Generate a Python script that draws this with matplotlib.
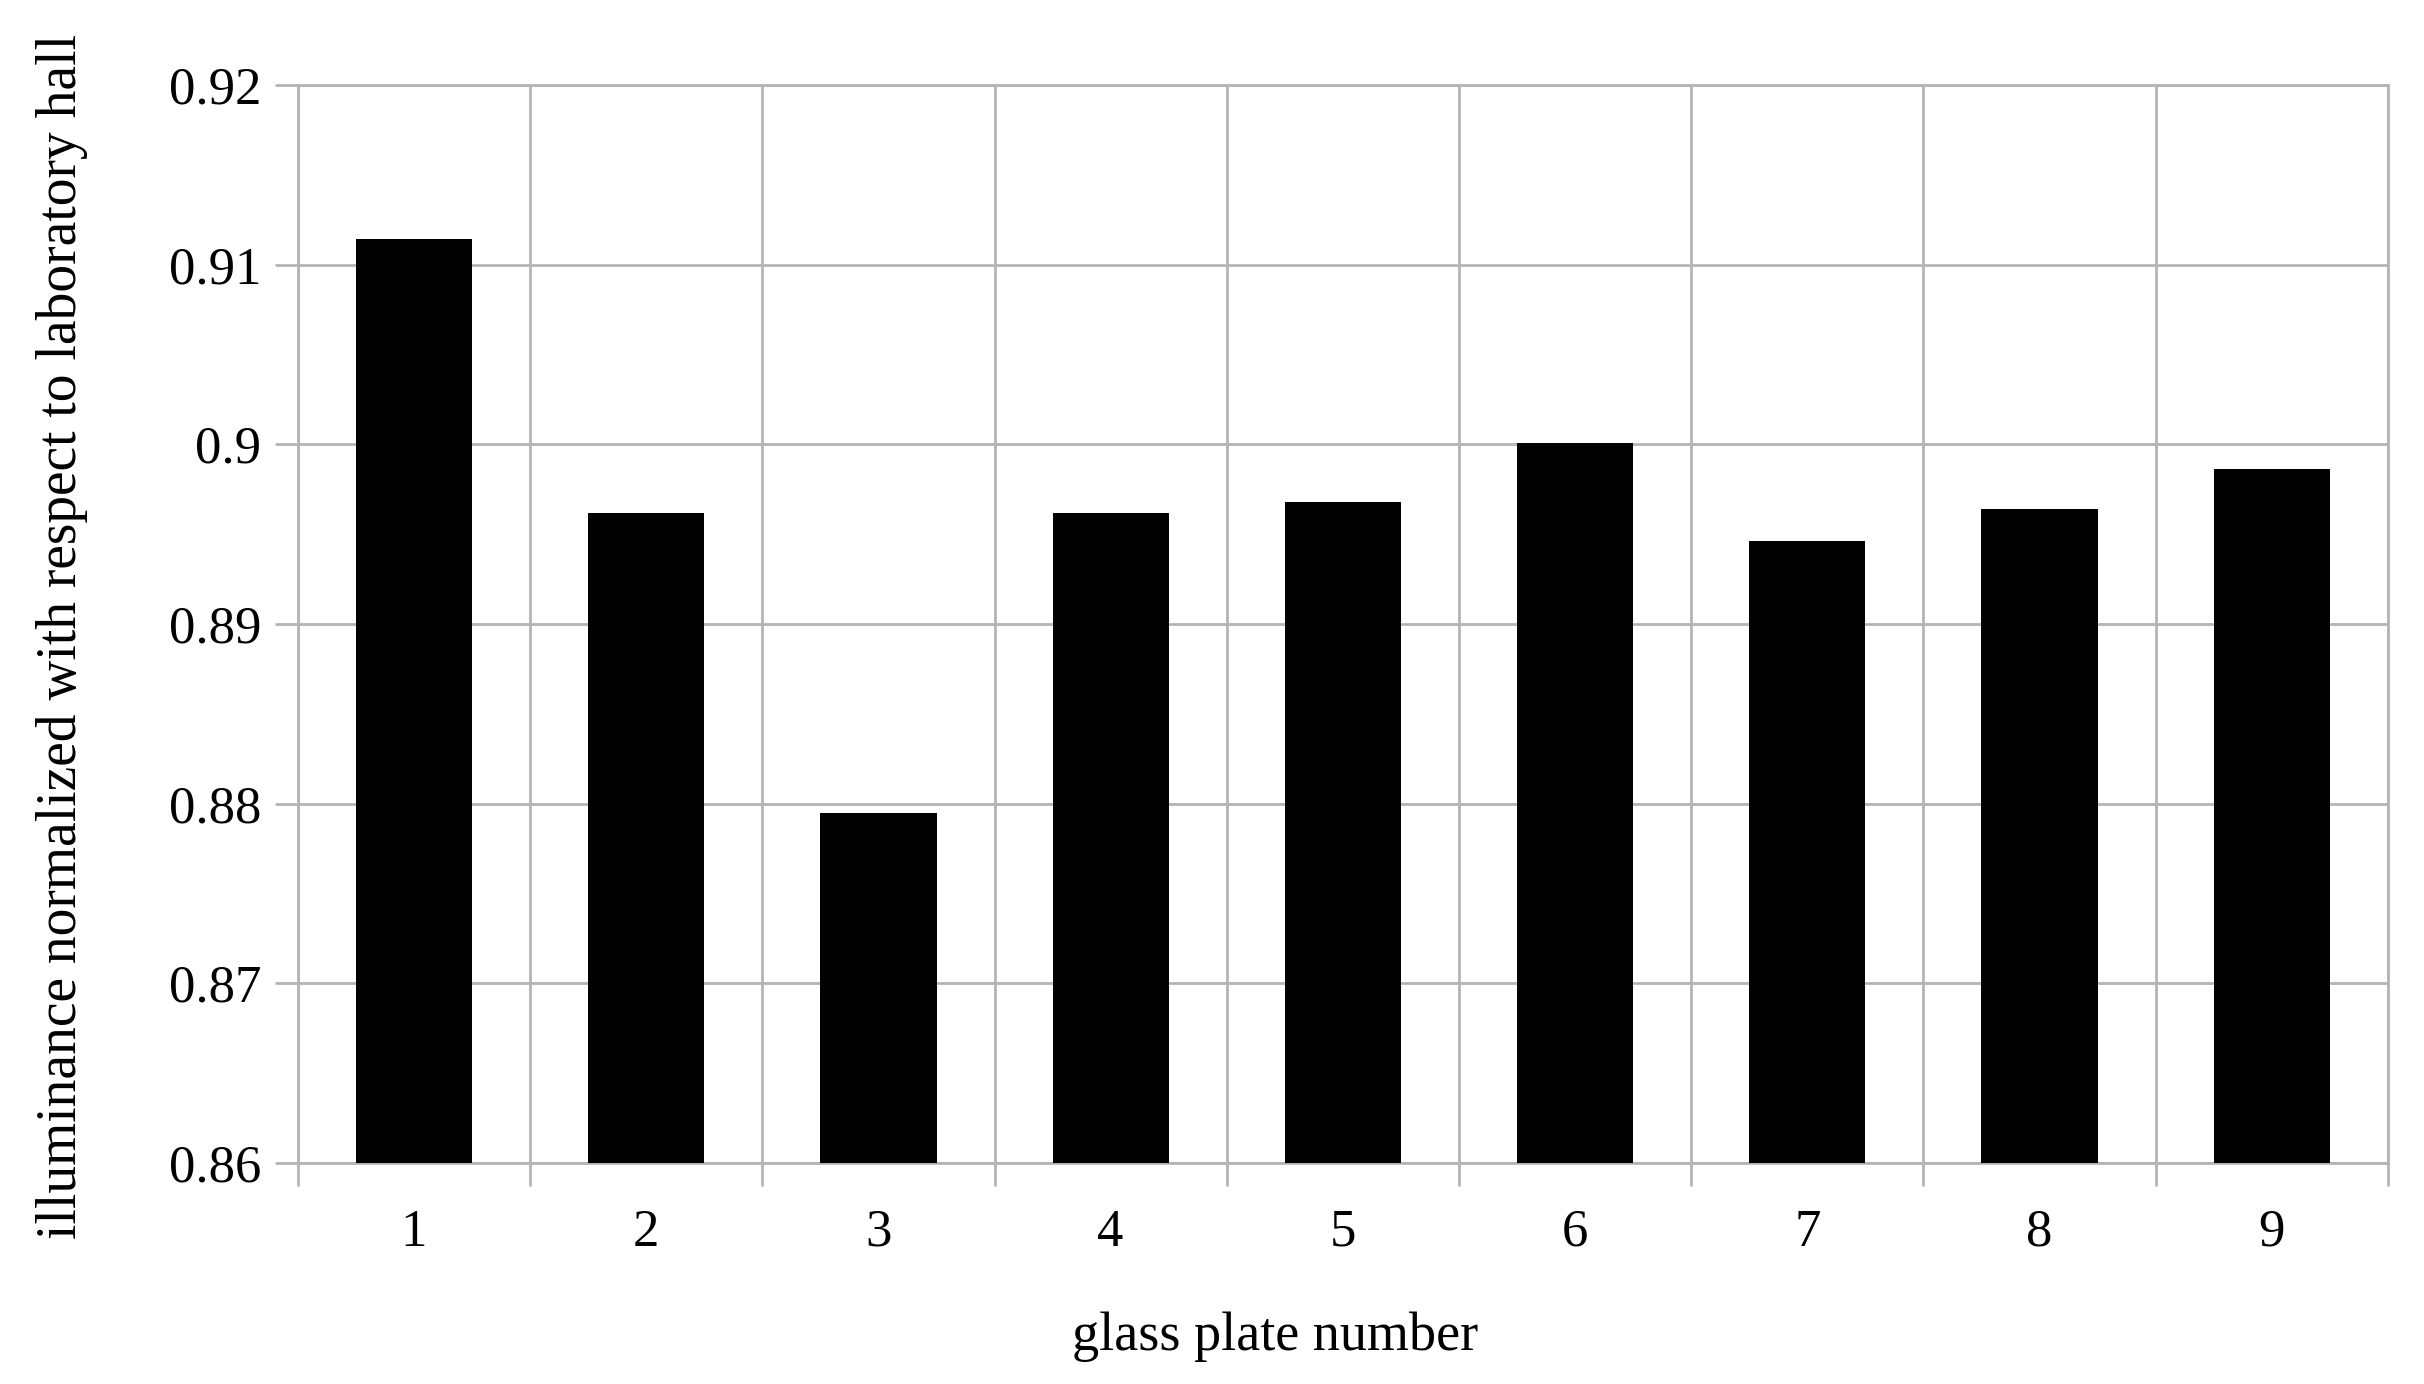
import matplotlib
matplotlib.use("Agg")
import matplotlib.pyplot as plt
import numpy as np

plates = ["1", "2", "3", "4", "5", "6", "7", "8", "9"]
illuminance = [0.9114, 0.8962, 0.8795, 0.8962, 0.8968, 0.9001, 0.8946, 0.8964, 0.8986]
yticks = [0.86, 0.87, 0.88, 0.89, 0.9, 0.91, 0.92]
ytick_labels = ["0.86", "0.87", "0.88", "0.89", "0.9", "0.91", "0.92"]

plt.rcParams['font.family'] = ['Liberation Serif', 'DejaVu Serif']
grid_c = "#b4b4b4"

fig = plt.figure(figsize=(12.12, 6.92), dpi=200)
ax = fig.add_axes([0.1229, 0.1597, 0.9851 - 0.1229, 0.9386 - 0.1597])

x = np.arange(1, len(plates) + 1)
ax.bar(x, np.array(illuminance) - 0.86, bottom=0.86, width=0.5, color="black", zorder=3)

ax.set_xlim(0.5, len(plates) + 0.5)
ax.set_ylim(0.86, 0.92)
ax.set_yticks(yticks)
ax.set_yticklabels(ytick_labels)
ax.set_xticks(x)
ax.set_xticklabels(plates)
ax.set_xticks(np.arange(0.5, len(plates) + 1.0, 1.0), minor=True)

ax.tick_params(axis='x', which='major', length=0, pad=16.5, labelsize=19)
ax.tick_params(axis='x', which='minor', length=8.3, width=1, color=grid_c)
ax.tick_params(axis='y', which='major', length=8.3, width=1, color=grid_c, pad=5, labelsize=19)

ax.grid(True, axis='y', which='major', color=grid_c, linewidth=1, zorder=0)
ax.grid(True, axis='x', which='minor', color=grid_c, linewidth=1, zorder=0)
ax.set_axisbelow(True)
for s in ax.spines.values():
    s.set_color(grid_c)
    s.set_linewidth(1)

ax.set_xlabel("glass plate number", fontsize=19.5, va='center')
ax.xaxis.set_label_coords(0.4675, -0.1614)
ax.set_ylabel("illuminance normalized with respect to laboratory hall", fontsize=20, va='center')
ax.yaxis.set_label_coords(-0.1129, 0.488)

fig.savefig("out.png", dpi=200, facecolor="white")
